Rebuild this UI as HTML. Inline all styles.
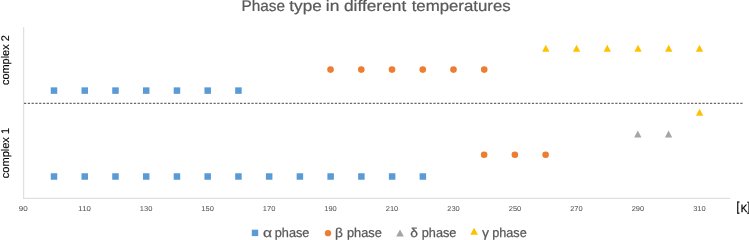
<!DOCTYPE html><html><head><meta charset="utf-8"><title>Phase type in different temperatures</title>
<style>html,body{margin:0;padding:0;background:#fff;overflow:hidden}svg{display:block}text{font-family:"Liberation Sans",sans-serif;text-rendering:geometricPrecision}</style></head><body>
<svg width="749" height="240" viewBox="0 0 749 240">
<rect width="749" height="240" fill="#fff"/>
<line x1="23.7" y1="27.2" x2="23.7" y2="198.8" stroke="#d9d9d9" stroke-width="1"/>
<line x1="23.2" y1="198.3" x2="730.3" y2="198.3" stroke="#d9d9d9" stroke-width="1"/>
<line x1="24" y1="103.3" x2="742.5" y2="103.3" stroke="#454545" stroke-width="1" stroke-dasharray="2.25 1.54"/>
<text transform="translate(8.5,85) rotate(-90)" font-size="11.1" fill="#000" stroke="#000" stroke-width="0.12" textLength="49.75" lengthAdjust="spacingAndGlyphs">complex 2</text>
<text transform="translate(8.5,178.2) rotate(-90)" font-size="11.1" fill="#000" stroke="#000" stroke-width="0.12" textLength="50.25" lengthAdjust="spacingAndGlyphs">complex 1</text>
<text x="241.46" y="11.3" font-size="15.4" fill="#595959" stroke="#595959" stroke-width="0.22" textLength="43.56" lengthAdjust="spacingAndGlyphs">Phase</text>
<text x="289.33" y="11.3" font-size="15.4" fill="#595959" stroke="#595959" stroke-width="0.22" textLength="32.48" lengthAdjust="spacingAndGlyphs">type</text>
<text x="325.78" y="11.3" font-size="15.4" fill="#595959" stroke="#595959" stroke-width="0.22" textLength="13.59" lengthAdjust="spacingAndGlyphs">in</text>
<text x="343.97" y="11.3" font-size="15.4" fill="#595959" stroke="#595959" stroke-width="0.22" textLength="62.24" lengthAdjust="spacingAndGlyphs">different</text>
<text x="411.65" y="11.3" font-size="15.4" fill="#595959" stroke="#595959" stroke-width="0.22" textLength="99.06" lengthAdjust="spacingAndGlyphs">temperatures</text>
<text x="263.11" y="237.0" font-size="12.9" fill="#595959" stroke="#595959" stroke-width="0.25" textLength="9.01" lengthAdjust="spacingAndGlyphs">α</text>
<text x="274.76" y="237.0" font-size="12.9" fill="#595959" stroke="#595959" stroke-width="0.25" textLength="34.71" lengthAdjust="spacingAndGlyphs">phase</text>
<text x="335.06" y="237.0" font-size="12.9" fill="#595959" stroke="#595959" stroke-width="0.25" textLength="7.87" lengthAdjust="spacingAndGlyphs">β</text>
<text x="346.91" y="237.0" font-size="12.9" fill="#595959" stroke="#595959" stroke-width="0.25" textLength="34.91" lengthAdjust="spacingAndGlyphs">phase</text>
<text x="410.29" y="237.0" font-size="12.9" fill="#595959" stroke="#595959" stroke-width="0.25" textLength="7.69" lengthAdjust="spacingAndGlyphs">δ</text>
<text x="421.76" y="237.0" font-size="12.9" fill="#595959" stroke="#595959" stroke-width="0.25" textLength="34.71" lengthAdjust="spacingAndGlyphs">phase</text>
<text x="481.97" y="237.0" font-size="12.9" fill="#595959" stroke="#595959" stroke-width="0.25" textLength="7.06" lengthAdjust="spacingAndGlyphs">γ</text>
<text x="492.23" y="237.0" font-size="12.9" fill="#595959" stroke="#595959" stroke-width="0.25" textLength="34.55" lengthAdjust="spacingAndGlyphs">phase</text>
<text x="736.53" y="211.3" font-size="12.75" fill="#000" stroke="#000" stroke-width="0.3" textLength="2.85" lengthAdjust="spacingAndGlyphs">[</text>
<text x="740.82" y="211.6" font-size="10.6" fill="#000" stroke="#000" stroke-width="0.3" textLength="6.50" lengthAdjust="spacingAndGlyphs">K</text>
<text x="23.16" y="211.0" font-size="7.1" fill="#595959" stroke="#595959" stroke-width="0.05" text-anchor="middle" textLength="9.0" lengthAdjust="spacingAndGlyphs">90</text>
<text x="84.64" y="211.0" font-size="7.1" fill="#595959" stroke="#595959" stroke-width="0.05" text-anchor="middle" textLength="12.5" lengthAdjust="spacingAndGlyphs">110</text>
<text x="146.11" y="211.0" font-size="7.1" fill="#595959" stroke="#595959" stroke-width="0.05" text-anchor="middle" textLength="12.5" lengthAdjust="spacingAndGlyphs">130</text>
<text x="207.59" y="211.0" font-size="7.1" fill="#595959" stroke="#595959" stroke-width="0.05" text-anchor="middle" textLength="12.5" lengthAdjust="spacingAndGlyphs">150</text>
<text x="269.07" y="211.0" font-size="7.1" fill="#595959" stroke="#595959" stroke-width="0.05" text-anchor="middle" textLength="12.5" lengthAdjust="spacingAndGlyphs">170</text>
<text x="330.54" y="211.0" font-size="7.1" fill="#595959" stroke="#595959" stroke-width="0.05" text-anchor="middle" textLength="12.5" lengthAdjust="spacingAndGlyphs">190</text>
<text x="392.02" y="211.0" font-size="7.1" fill="#595959" stroke="#595959" stroke-width="0.05" text-anchor="middle" textLength="12.5" lengthAdjust="spacingAndGlyphs">210</text>
<text x="453.49" y="211.0" font-size="7.1" fill="#595959" stroke="#595959" stroke-width="0.05" text-anchor="middle" textLength="12.5" lengthAdjust="spacingAndGlyphs">230</text>
<text x="514.97" y="211.0" font-size="7.1" fill="#595959" stroke="#595959" stroke-width="0.05" text-anchor="middle" textLength="12.5" lengthAdjust="spacingAndGlyphs">250</text>
<text x="576.45" y="211.0" font-size="7.1" fill="#595959" stroke="#595959" stroke-width="0.05" text-anchor="middle" textLength="12.5" lengthAdjust="spacingAndGlyphs">270</text>
<text x="637.92" y="211.0" font-size="7.1" fill="#595959" stroke="#595959" stroke-width="0.05" text-anchor="middle" textLength="12.5" lengthAdjust="spacingAndGlyphs">290</text>
<text x="699.40" y="211.0" font-size="7.1" fill="#595959" stroke="#595959" stroke-width="0.05" text-anchor="middle" textLength="12.5" lengthAdjust="spacingAndGlyphs">310</text>
<text x="747.3" y="211.3" font-size="12.75" fill="#000" stroke="#000" stroke-width="0.2" textLength="2.9" lengthAdjust="spacingAndGlyphs">]</text>
<rect x="50.75" y="87.35" width="6.5" height="6.5" fill="#5b9bd5"/>
<rect x="81.49" y="87.35" width="6.5" height="6.5" fill="#5b9bd5"/>
<rect x="112.23" y="87.35" width="6.5" height="6.5" fill="#5b9bd5"/>
<rect x="142.96" y="87.35" width="6.5" height="6.5" fill="#5b9bd5"/>
<rect x="173.70" y="87.35" width="6.5" height="6.5" fill="#5b9bd5"/>
<rect x="204.44" y="87.35" width="6.5" height="6.5" fill="#5b9bd5"/>
<rect x="235.18" y="87.35" width="6.5" height="6.5" fill="#5b9bd5"/>
<circle cx="330.54" cy="69.60" r="3.3" fill="#ed7d31"/>
<circle cx="361.28" cy="69.60" r="3.3" fill="#ed7d31"/>
<circle cx="392.02" cy="69.60" r="3.3" fill="#ed7d31"/>
<circle cx="422.76" cy="69.60" r="3.3" fill="#ed7d31"/>
<circle cx="453.49" cy="69.60" r="3.3" fill="#ed7d31"/>
<circle cx="484.23" cy="69.60" r="3.3" fill="#ed7d31"/>
<path d="M545.81 44.70L549.46 51.70L542.16 51.70Z" fill="#ffc000"/>
<path d="M576.55 44.70L580.20 51.70L572.90 51.70Z" fill="#ffc000"/>
<path d="M607.28 44.70L610.93 51.70L603.63 51.70Z" fill="#ffc000"/>
<path d="M638.02 44.70L641.67 51.70L634.37 51.70Z" fill="#ffc000"/>
<path d="M668.76 44.70L672.41 51.70L665.11 51.70Z" fill="#ffc000"/>
<path d="M699.50 44.70L703.15 51.70L695.85 51.70Z" fill="#ffc000"/>
<rect x="50.75" y="173.25" width="6.5" height="6.5" fill="#5b9bd5"/>
<rect x="81.49" y="173.25" width="6.5" height="6.5" fill="#5b9bd5"/>
<rect x="112.23" y="173.25" width="6.5" height="6.5" fill="#5b9bd5"/>
<rect x="142.96" y="173.25" width="6.5" height="6.5" fill="#5b9bd5"/>
<rect x="173.70" y="173.25" width="6.5" height="6.5" fill="#5b9bd5"/>
<rect x="204.44" y="173.25" width="6.5" height="6.5" fill="#5b9bd5"/>
<rect x="235.18" y="173.25" width="6.5" height="6.5" fill="#5b9bd5"/>
<rect x="265.92" y="173.25" width="6.5" height="6.5" fill="#5b9bd5"/>
<rect x="296.65" y="173.25" width="6.5" height="6.5" fill="#5b9bd5"/>
<rect x="327.39" y="173.25" width="6.5" height="6.5" fill="#5b9bd5"/>
<rect x="358.13" y="173.25" width="6.5" height="6.5" fill="#5b9bd5"/>
<rect x="388.87" y="173.25" width="6.5" height="6.5" fill="#5b9bd5"/>
<rect x="419.61" y="173.25" width="6.5" height="6.5" fill="#5b9bd5"/>
<circle cx="484.13" cy="154.75" r="3.3" fill="#ed7d31"/>
<circle cx="514.87" cy="154.75" r="3.3" fill="#ed7d31"/>
<circle cx="545.61" cy="154.75" r="3.3" fill="#ed7d31"/>
<path d="M637.82 130.40L641.47 137.40L634.17 137.40Z" fill="#a5a5a5"/>
<path d="M668.56 130.40L672.21 137.40L664.91 137.40Z" fill="#a5a5a5"/>
<path d="M699.60 108.70L703.25 115.70L695.95 115.70Z" fill="#ffc000"/>
<rect x="251.80" y="229.70" width="6.4" height="6.4" fill="#5b9bd5"/>
<circle cx="328.00" cy="233.20" r="3.15" fill="#ed7d31"/>
<path d="M400.00 229.55L403.90 236.45L396.10 236.45Z" fill="#a5a5a5"/>
<path d="M474.10 227.80L478.00 234.80L470.20 234.80Z" fill="#ffc000"/>
</svg></body></html>
